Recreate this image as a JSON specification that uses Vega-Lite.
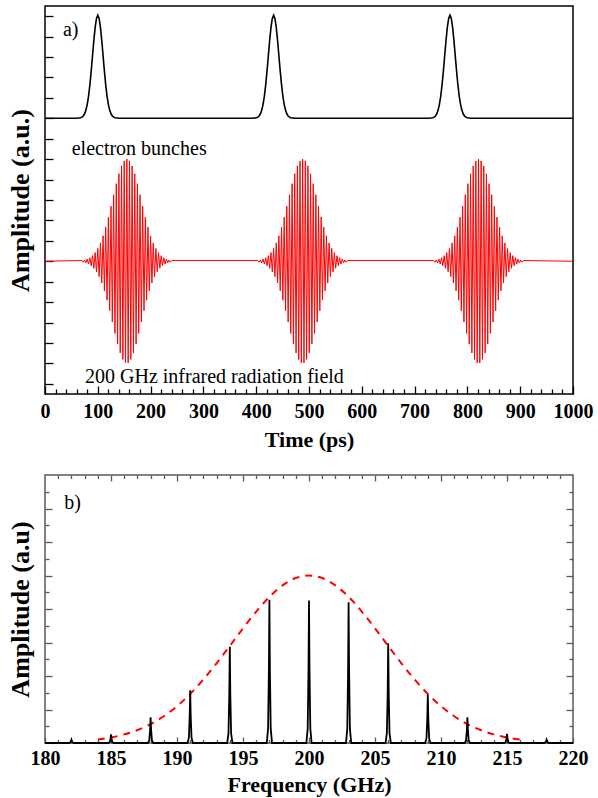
{
  "$schema": "https://vega.github.io/schema/vega-lite/v6.json",
  "background": "white",
  "padding": {"left": 6, "top": 5, "right": 5, "bottom": 0},
  "spacing": 22,
  "config": {
    "font": "Liberation Serif",
    "view": {"stroke": "black", "strokeWidth": 1.5},
    "axis": {
      "grid": false, "domain": false, "tickColor": "black", "tickWidth": 1.3,
      "labelFont": "Liberation Serif", "labelFontWeight": "bold", "labelFontSize": 20, "labelColor": "black",
      "titleFont": "Liberation Serif", "titleFontWeight": "bold", "titleFontSize": 22, "titleColor": "black",
      "labelFlush": false, "labelOverlap": false, "labelBound": false
    }
  },
  "datasets": {
    "bunch": [
      {"t":0,"y":13.5},{"t":60,"y":13.5},
      {"t":67.5,"y":13.526},{"t":70,"y":13.556},{"t":72.5,"y":13.615},{"t":75,"y":13.722},{"t":77.5,"y":13.902},{"t":80,"y":14.183},{"t":82.5,"y":14.592},{"t":85,"y":15.139},{"t":87.5,"y":15.812},{"t":90,"y":16.563},{"t":92.5,"y":17.312},{"t":95,"y":17.957},{"t":97.5,"y":18.395},{"t":100,"y":18.55},{"t":102.5,"y":18.395},{"t":105,"y":17.957},{"t":107.5,"y":17.312},{"t":110,"y":16.563},{"t":112.5,"y":15.812},{"t":115,"y":15.139},{"t":117.5,"y":14.592},{"t":120,"y":14.183},{"t":122.5,"y":13.902},{"t":125,"y":13.722},{"t":127.5,"y":13.615},{"t":130,"y":13.556},{"t":132.5,"y":13.526},
      {"t":140,"y":13.5},{"t":393,"y":13.5},
      {"t":400.5,"y":13.526},{"t":403,"y":13.556},{"t":405.5,"y":13.615},{"t":408,"y":13.722},{"t":410.5,"y":13.902},{"t":413,"y":14.183},{"t":415.5,"y":14.592},{"t":418,"y":15.139},{"t":420.5,"y":15.812},{"t":423,"y":16.563},{"t":425.5,"y":17.312},{"t":428,"y":17.957},{"t":430.5,"y":18.395},{"t":433,"y":18.55},{"t":435.5,"y":18.395},{"t":438,"y":17.957},{"t":440.5,"y":17.312},{"t":443,"y":16.563},{"t":445.5,"y":15.812},{"t":448,"y":15.139},{"t":450.5,"y":14.592},{"t":453,"y":14.183},{"t":455.5,"y":13.902},{"t":458,"y":13.722},{"t":460.5,"y":13.615},{"t":463,"y":13.556},{"t":465.5,"y":13.526},
      {"t":473,"y":13.5},{"t":727,"y":13.5},
      {"t":734.5,"y":13.526},{"t":737,"y":13.556},{"t":739.5,"y":13.615},{"t":742,"y":13.722},{"t":744.5,"y":13.902},{"t":747,"y":14.183},{"t":749.5,"y":14.592},{"t":752,"y":15.139},{"t":754.5,"y":15.812},{"t":757,"y":16.563},{"t":759.5,"y":17.312},{"t":762,"y":17.957},{"t":764.5,"y":18.395},{"t":767,"y":18.55},{"t":769.5,"y":18.395},{"t":772,"y":17.957},{"t":774.5,"y":17.312},{"t":777,"y":16.563},{"t":779.5,"y":15.812},{"t":782,"y":15.139},{"t":784.5,"y":14.592},{"t":787,"y":14.183},{"t":789.5,"y":13.902},{"t":792,"y":13.722},{"t":794.5,"y":13.615},{"t":797,"y":13.556},{"t":799.5,"y":13.526},
      {"t":807,"y":13.5},{"t":1000,"y":13.5}
    ],
    "field": [
      {"t":0,"y":6.5},
      {"t":70,"y":6.535},{"t":72.5,"y":6.453},{"t":75,"y":6.562},{"t":77.5,"y":6.419},{"t":80,"y":6.606},{"t":82.5,"y":6.364},{"t":85,"y":6.674},{"t":87.5,"y":6.28},{"t":90,"y":6.776},{"t":92.5,"y":6.157},{"t":95,"y":6.923},{"t":97.5,"y":5.982},{"t":100,"y":7.128},{"t":102.5,"y":5.745},{"t":105,"y":7.4},{"t":107.5,"y":5.436},{"t":110,"y":7.747},{"t":112.5,"y":5.051},{"t":115,"y":8.169},{"t":117.5,"y":4.594},{"t":120,"y":8.658},{"t":122.5,"y":4.077},{"t":125,"y":9.197},{"t":127.5,"y":3.524},{"t":130,"y":9.757},{"t":132.5,"y":2.967},{"t":135,"y":10.3},{"t":137.5,"y":2.447},{"t":140,"y":10.785},{"t":142.5,"y":2.008},{"t":145,"y":11.169},{"t":147.5,"y":1.689},{"t":150,"y":11.415},{"t":152.5,"y":1.521},{"t":155,"y":11.5},{"t":157.5,"y":1.521},{"t":160,"y":11.415},{"t":162.5,"y":1.689},{"t":165,"y":11.169},{"t":167.5,"y":2.008},{"t":170,"y":10.785},{"t":172.5,"y":2.447},{"t":175,"y":10.3},{"t":177.5,"y":2.967},{"t":180,"y":9.757},{"t":182.5,"y":3.524},{"t":185,"y":9.197},{"t":187.5,"y":4.077},{"t":190,"y":8.658},{"t":192.5,"y":4.594},{"t":195,"y":8.169},{"t":197.5,"y":5.051},{"t":200,"y":7.747},{"t":202.5,"y":5.436},{"t":205,"y":7.4},{"t":207.5,"y":5.745},{"t":210,"y":7.128},{"t":212.5,"y":5.982},{"t":215,"y":6.923},{"t":217.5,"y":6.157},{"t":220,"y":6.776},{"t":222.5,"y":6.28},{"t":225,"y":6.674},{"t":227.5,"y":6.364},{"t":230,"y":6.606},{"t":232.5,"y":6.419},{"t":235,"y":6.562},{"t":237.5,"y":6.453},{"t":240,"y":6.535},
      {"t":403,"y":6.535},{"t":405.5,"y":6.453},{"t":408,"y":6.562},{"t":410.5,"y":6.419},{"t":413,"y":6.606},{"t":415.5,"y":6.364},{"t":418,"y":6.674},{"t":420.5,"y":6.28},{"t":423,"y":6.776},{"t":425.5,"y":6.157},{"t":428,"y":6.923},{"t":430.5,"y":5.982},{"t":433,"y":7.128},{"t":435.5,"y":5.745},{"t":438,"y":7.4},{"t":440.5,"y":5.436},{"t":443,"y":7.747},{"t":445.5,"y":5.051},{"t":448,"y":8.169},{"t":450.5,"y":4.594},{"t":453,"y":8.658},{"t":455.5,"y":4.077},{"t":458,"y":9.197},{"t":460.5,"y":3.524},{"t":463,"y":9.757},{"t":465.5,"y":2.967},{"t":468,"y":10.3},{"t":470.5,"y":2.447},{"t":473,"y":10.785},{"t":475.5,"y":2.008},{"t":478,"y":11.169},{"t":480.5,"y":1.689},{"t":483,"y":11.415},{"t":485.5,"y":1.521},{"t":488,"y":11.5},{"t":490.5,"y":1.521},{"t":493,"y":11.415},{"t":495.5,"y":1.689},{"t":498,"y":11.169},{"t":500.5,"y":2.008},{"t":503,"y":10.785},{"t":505.5,"y":2.447},{"t":508,"y":10.3},{"t":510.5,"y":2.967},{"t":513,"y":9.757},{"t":515.5,"y":3.524},{"t":518,"y":9.197},{"t":520.5,"y":4.077},{"t":523,"y":8.658},{"t":525.5,"y":4.594},{"t":528,"y":8.169},{"t":530.5,"y":5.051},{"t":533,"y":7.747},{"t":535.5,"y":5.436},{"t":538,"y":7.4},{"t":540.5,"y":5.745},{"t":543,"y":7.128},{"t":545.5,"y":5.982},{"t":548,"y":6.923},{"t":550.5,"y":6.157},{"t":553,"y":6.776},{"t":555.5,"y":6.28},{"t":558,"y":6.674},{"t":560.5,"y":6.364},{"t":563,"y":6.606},{"t":565.5,"y":6.419},{"t":568,"y":6.562},{"t":570.5,"y":6.453},{"t":573,"y":6.535},
      {"t":736,"y":6.535},{"t":738.5,"y":6.453},{"t":741,"y":6.562},{"t":743.5,"y":6.419},{"t":746,"y":6.606},{"t":748.5,"y":6.364},{"t":751,"y":6.674},{"t":753.5,"y":6.28},{"t":756,"y":6.776},{"t":758.5,"y":6.157},{"t":761,"y":6.923},{"t":763.5,"y":5.982},{"t":766,"y":7.128},{"t":768.5,"y":5.745},{"t":771,"y":7.4},{"t":773.5,"y":5.436},{"t":776,"y":7.747},{"t":778.5,"y":5.051},{"t":781,"y":8.169},{"t":783.5,"y":4.594},{"t":786,"y":8.658},{"t":788.5,"y":4.077},{"t":791,"y":9.197},{"t":793.5,"y":3.524},{"t":796,"y":9.757},{"t":798.5,"y":2.967},{"t":801,"y":10.3},{"t":803.5,"y":2.447},{"t":806,"y":10.785},{"t":808.5,"y":2.008},{"t":811,"y":11.169},{"t":813.5,"y":1.689},{"t":816,"y":11.415},{"t":818.5,"y":1.521},{"t":821,"y":11.5},{"t":823.5,"y":1.521},{"t":826,"y":11.415},{"t":828.5,"y":1.689},{"t":831,"y":11.169},{"t":833.5,"y":2.008},{"t":836,"y":10.785},{"t":838.5,"y":2.447},{"t":841,"y":10.3},{"t":843.5,"y":2.967},{"t":846,"y":9.757},{"t":848.5,"y":3.524},{"t":851,"y":9.197},{"t":853.5,"y":4.077},{"t":856,"y":8.658},{"t":858.5,"y":4.594},{"t":861,"y":8.169},{"t":863.5,"y":5.051},{"t":866,"y":7.747},{"t":868.5,"y":5.436},{"t":871,"y":7.4},{"t":873.5,"y":5.745},{"t":876,"y":7.128},{"t":878.5,"y":5.982},{"t":881,"y":6.923},{"t":883.5,"y":6.157},{"t":886,"y":6.776},{"t":888.5,"y":6.28},{"t":891,"y":6.674},{"t":893.5,"y":6.364},{"t":896,"y":6.606},{"t":898.5,"y":6.419},{"t":901,"y":6.562},{"t":903.5,"y":6.453},{"t":906,"y":6.535},
      {"t":1000,"y":6.5}
    ],
    "notesA": [
      {"t":34,"y":17.55,"label":"a)"},
      {"t":50.6,"y":11.71,"label":"electron bunches"},
      {"t":75.8,"y":0.52,"label":"200 GHz infrared radiation field"}
    ],
    "spikes": [
      {"f":180,"a":0},
      {"f":181.8,"a":0},{"f":181.9,"a":0.02},{"f":181.96,"a":0.1},{"f":182,"a":0.2},{"f":182.04,"a":0.1},{"f":182.1,"a":0.02},{"f":182.2,"a":0},
      {"f":184.8,"a":0},{"f":184.9,"a":0.052},{"f":184.96,"a":0.26},{"f":185,"a":0.52},{"f":185.04,"a":0.26},{"f":185.1,"a":0.052},{"f":185.2,"a":0},
      {"f":187.8,"a":0},{"f":187.9,"a":0.154},{"f":187.96,"a":0.77},{"f":188,"a":1.54},{"f":188.04,"a":0.77},{"f":188.1,"a":0.154},{"f":188.2,"a":0},
      {"f":190.8,"a":0},{"f":190.9,"a":0.315},{"f":190.96,"a":1.575},{"f":191,"a":3.15},{"f":191.04,"a":1.575},{"f":191.1,"a":0.315},{"f":191.2,"a":0},
      {"f":193.8,"a":0},{"f":193.9,"a":0.575},{"f":193.96,"a":2.875},{"f":194,"a":5.75},{"f":194.04,"a":2.875},{"f":194.1,"a":0.575},{"f":194.2,"a":0},
      {"f":196.8,"a":0},{"f":196.9,"a":0.855},{"f":196.96,"a":4.275},{"f":197,"a":8.55},{"f":197.04,"a":4.275},{"f":197.1,"a":0.855},{"f":197.2,"a":0},
      {"f":199.8,"a":0},{"f":199.9,"a":0.85},{"f":199.96,"a":4.25},{"f":200,"a":8.5},{"f":200.04,"a":4.25},{"f":200.1,"a":0.85},{"f":200.2,"a":0},
      {"f":202.8,"a":0},{"f":202.9,"a":0.84},{"f":202.96,"a":4.2},{"f":203,"a":8.4},{"f":203.04,"a":4.2},{"f":203.1,"a":0.84},{"f":203.2,"a":0},
      {"f":205.8,"a":0},{"f":205.9,"a":0.595},{"f":205.96,"a":2.975},{"f":206,"a":5.95},{"f":206.04,"a":2.975},{"f":206.1,"a":0.595},{"f":206.2,"a":0},
      {"f":208.8,"a":0},{"f":208.9,"a":0.29},{"f":208.96,"a":1.45},{"f":209,"a":2.9},{"f":209.04,"a":1.45},{"f":209.1,"a":0.29},{"f":209.2,"a":0},
      {"f":211.8,"a":0},{"f":211.9,"a":0.154},{"f":211.96,"a":0.77},{"f":212,"a":1.54},{"f":212.04,"a":0.77},{"f":212.1,"a":0.154},{"f":212.2,"a":0},
      {"f":214.8,"a":0},{"f":214.9,"a":0.054},{"f":214.96,"a":0.27},{"f":215,"a":0.54},{"f":215.04,"a":0.27},{"f":215.1,"a":0.054},{"f":215.2,"a":0},
      {"f":217.8,"a":0},{"f":217.9,"a":0.02},{"f":217.96,"a":0.1},{"f":218,"a":0.2},{"f":218.04,"a":0.1},{"f":218.1,"a":0.02},{"f":218.2,"a":0},
      {"f":220,"a":0}
    ],
    "env": [
      {"f":184,"a":0.207},{"f":185,"a":0.331},{"f":186,"a":0.513},{"f":187,"a":0.773},{"f":188,"a":1.128},{"f":189,"a":1.599},{"f":190,"a":2.198},{"f":191,"a":2.931},{"f":192,"a":3.792},{"f":193,"a":4.76},{"f":194,"a":5.796},{"f":195,"a":6.847},{"f":196,"a":7.847},{"f":197,"a":8.725},{"f":198,"a":9.412},{"f":199,"a":9.85},{"f":200,"a":10},{"f":201,"a":9.85},{"f":202,"a":9.412},{"f":203,"a":8.725},{"f":204,"a":7.847},{"f":205,"a":6.847},{"f":206,"a":5.796},{"f":207,"a":4.76},{"f":208,"a":3.792},{"f":209,"a":2.931},{"f":210,"a":2.198},{"f":211,"a":1.599},{"f":212,"a":1.128},{"f":213,"a":0.773},{"f":214,"a":0.513},{"f":215,"a":0.331},{"f":216,"a":0.207}
    ],
    "notesB": [
      {"f":181.46,"a":14.0,"label":"b)"}
    ]
  },
  "vconcat": [
    {
      "width": 528,
      "height": 388,
      "encoding": {
        "x": {
          "field": "t", "type": "quantitative",
          "scale": {"domain": [0, 1000], "nice": false, "zero": false},
          "axis": {
            "title": "Time (ps)",
            "values": [0,20,40,60,80,100,120,140,160,180,200,220,240,260,280,300,320,340,360,380,400,420,440,460,480,500,520,540,560,580,600,620,640,660,680,700,720,740,760,780,800,820,840,860,880,900,920,940,960,980,1000],
            "labelExpr": "datum.value % 100 === 0 ? format(datum.value, 'd') : ''",
            "tickSize": {"condition": {"test": "datum.value % 100 === 0", "value": -8}, "value": -5},
            "labelPadding": 15,
            "titlePadding": 5
          }
        },
        "y": {
          "field": "y", "type": "quantitative",
          "scale": {"domain": [0, 19], "nice": false, "zero": false},
          "axis": {
            "title": "Amplitude (a.u.)",
            "titleFontSize": 26,
            "labels": false,
            "values": [0.5,1.5,2.5,3.5,4.5,5.5,6.5,7.5,8.5,9.5,10.5,11.5,12.5,13.5,14.5,15.5,16.5,17.5,18.5],
            "tickSize": -8,
            "titlePadding": 11
          }
        }
      },
      "layer": [
        {"data": {"name": "field"}, "mark": {"type": "line", "color": "#ff0000", "strokeWidth": 1.0}},
        {"data": {"name": "bunch"}, "mark": {"type": "line", "color": "black", "strokeWidth": 1.6}},
        {"data": {"name": "notesA"}, "mark": {"type": "text", "align": "left", "baseline": "alphabetic", "fontSize": 20, "font": "Liberation Serif", "color": "black"}, "encoding": {"text": {"field": "label"}}}
      ]
    },
    {
      "width": 528,
      "height": 268,
      "view": {"stroke": "#5a5a5a", "strokeWidth": 1.5},
      "layer": [
        {
          "data": {"name": "env"},
          "mark": {"type": "line", "color": "#ff0000", "strokeWidth": 2, "strokeDash": [7, 6], "interpolate": "monotone"},
          "encoding": {
            "x": {
              "field": "f", "type": "quantitative",
              "scale": {"domain": [180, 220], "nice": false, "zero": false},
              "axis": {
                "orient": "top", "title": null, "labels": false, "tickColor": "#5a5a5a",
                "values": [181,182,183,184,185,186,187,188,189,190,191,192,193,194,195,196,197,198,199,200,201,202,203,204,205,206,207,208,209,210,211,212,213,214,215,216,217,218,219],
                "tickSize": {"condition": {"test": "datum.value % 5 === 0", "value": -6}, "value": -3.5}
              }
            },
            "y": {
              "field": "a", "type": "quantitative",
              "scale": {"domain": [0, 16], "nice": false, "zero": false},
              "axis": {
                "orient": "right", "title": null, "labels": false, "tickColor": "#5a5a5a",
                "values": [1,2,3,4,5,6,7,8,9,10,11,12,13,14,15],
                "tickSize": {"condition": {"test": "datum.value % 2 === 0", "value": -7}, "value": -4}
              }
            }
          }
        },
        {
          "data": {"name": "spikes"},
          "mark": {"type": "line", "color": "black", "strokeWidth": 1.8},
          "encoding": {
            "x": {
              "field": "f", "type": "quantitative",
              "axis": {
                "orient": "bottom", "title": "Frequency (GHz)", "tickColor": "#5a5a5a",
                "values": [180,181,182,183,184,185,186,187,188,189,190,191,192,193,194,195,196,197,198,199,200,201,202,203,204,205,206,207,208,209,210,211,212,213,214,215,216,217,218,219,220],
                "labelExpr": "datum.value % 5 === 0 ? datum.label : ''",
                "tickSize": {"condition": {"test": "datum.value % 5 === 0", "value": -6}, "value": -3.5},
                "labelPadding": 11,
                "titlePadding": 4
              }
            },
            "y": {
              "field": "a", "type": "quantitative",
              "axis": {
                "orient": "left", "title": "Amplitude (a.u)", "titleFontSize": 26, "labels": false, "tickColor": "#5a5a5a",
                "values": [1,2,3,4,5,6,7,8,9,10,11,12,13,14,15],
                "tickSize": {"condition": {"test": "datum.value % 2 === 0", "value": -7}, "value": -4},
                "titlePadding": 11
              }
            }
          }
        },
        {
          "data": {"name": "notesB"},
          "mark": {"type": "text", "align": "left", "baseline": "alphabetic", "fontSize": 20, "font": "Liberation Serif", "color": "black"},
          "encoding": {
            "x": {"field": "f", "type": "quantitative", "axis": null},
            "y": {"field": "a", "type": "quantitative", "axis": null},
            "text": {"field": "label"}
          }
        }
      ],
      "resolve": {"axis": {"x": "independent", "y": "independent"}}
    }
  ]
}
